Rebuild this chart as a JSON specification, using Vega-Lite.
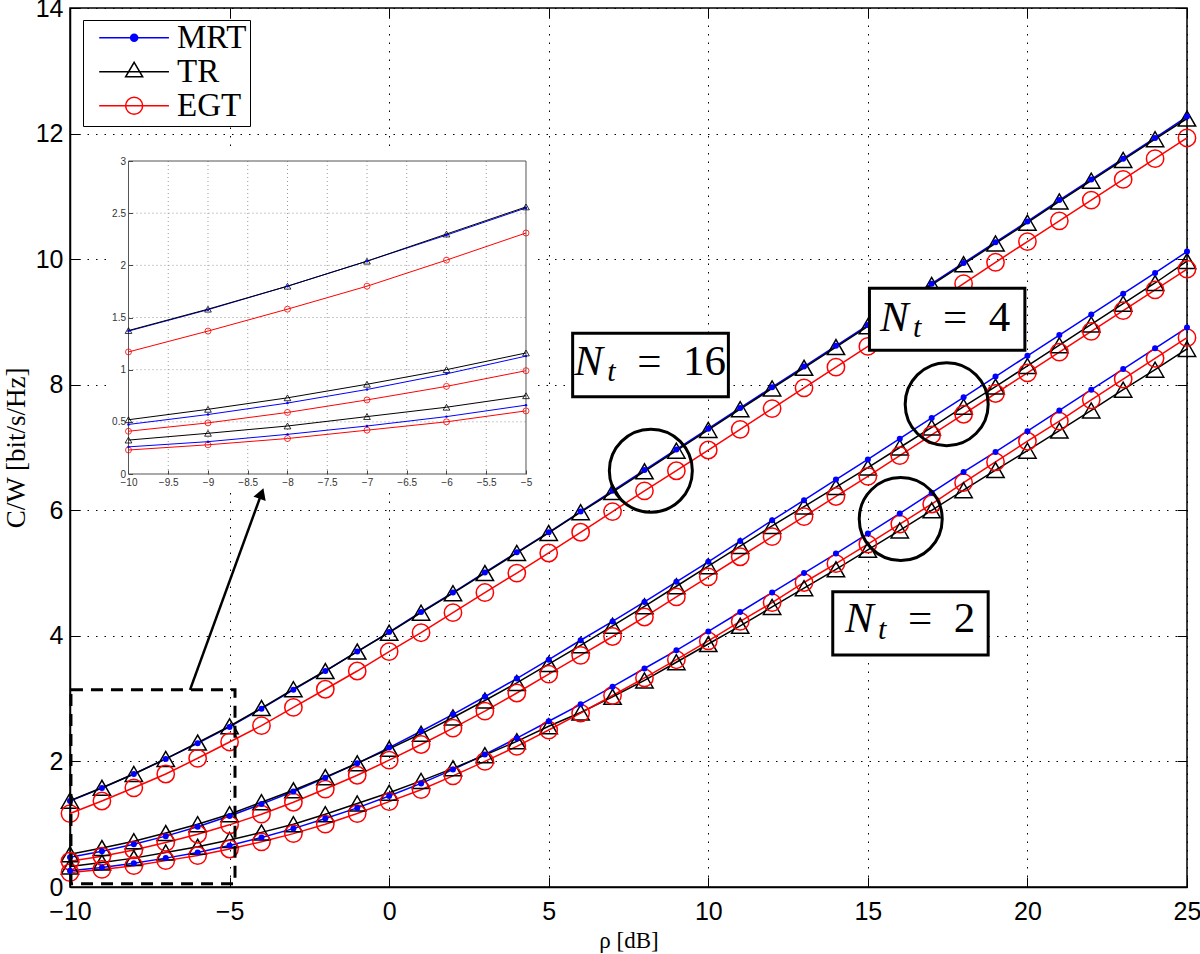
{
  "$schema": "https://vega.github.io/schema/vega-lite/v6.json",
  "width": 1117,
  "height": 879,
  "autosize": {"type": "none"},
  "padding": {"left": 70, "top": 8, "right": 13, "bottom": 67},
  "background": "white",
  "config": {
    "view": {"stroke": "black", "strokeWidth": 1.5},
    "legend": {
      "padding": 3,
      "strokeColor": "black",
      "fillColor": "white",
      "cornerRadius": 0,
      "labelFont": "Liberation Serif",
      "labelFontSize": 33,
      "labelColor": "black",
      "labelBaseline": "middle",
      "symbolSize": 900,
      "symbolStrokeWidth": 1.5,
      "symbolOpacity": 1,
      "labelOffset": 58,
      "rowPadding": 0,
      "clipHeight": 29.5,
      "labelLimit": 400
    }
  },
  "datasets": {
    "cap": [
      {"rho": -10, "Nt": 16, "MRT": 1.37, "TR": 1.375, "EGT": 1.17},
      {"rho": -9, "Nt": 16, "MRT": 1.575, "TR": 1.58, "EGT": 1.37},
      {"rho": -8, "Nt": 16, "MRT": 1.8, "TR": 1.8, "EGT": 1.58},
      {"rho": -7, "Nt": 16, "MRT": 2.04, "TR": 2.04, "EGT": 1.8},
      {"rho": -6, "Nt": 16, "MRT": 2.29, "TR": 2.3, "EGT": 2.05},
      {"rho": -5, "Nt": 16, "MRT": 2.55, "TR": 2.56, "EGT": 2.31},
      {"rho": -4, "Nt": 16, "MRT": 2.84, "TR": 2.85, "EGT": 2.57},
      {"rho": -3, "Nt": 16, "MRT": 3.14, "TR": 3.15, "EGT": 2.86},
      {"rho": -2, "Nt": 16, "MRT": 3.44, "TR": 3.44, "EGT": 3.15},
      {"rho": -1, "Nt": 16, "MRT": 3.75, "TR": 3.75, "EGT": 3.44},
      {"rho": 0, "Nt": 16, "MRT": 4.06, "TR": 4.05, "EGT": 3.75},
      {"rho": 1, "Nt": 16, "MRT": 4.38, "TR": 4.37, "EGT": 4.05},
      {"rho": 2, "Nt": 16, "MRT": 4.69, "TR": 4.68, "EGT": 4.37},
      {"rho": 3, "Nt": 16, "MRT": 5.01, "TR": 5.0, "EGT": 4.69},
      {"rho": 4, "Nt": 16, "MRT": 5.33, "TR": 5.32, "EGT": 5.0},
      {"rho": 5, "Nt": 16, "MRT": 5.65, "TR": 5.64, "EGT": 5.32},
      {"rho": 6, "Nt": 16, "MRT": 5.98, "TR": 5.97, "EGT": 5.65},
      {"rho": 7, "Nt": 16, "MRT": 6.31, "TR": 6.29, "EGT": 5.98},
      {"rho": 8, "Nt": 16, "MRT": 6.64, "TR": 6.62, "EGT": 6.31},
      {"rho": 9, "Nt": 16, "MRT": 6.97, "TR": 6.95, "EGT": 6.63},
      {"rho": 10, "Nt": 16, "MRT": 7.3, "TR": 7.28, "EGT": 6.96},
      {"rho": 11, "Nt": 16, "MRT": 7.63, "TR": 7.61, "EGT": 7.29},
      {"rho": 12, "Nt": 16, "MRT": 7.96, "TR": 7.94, "EGT": 7.62},
      {"rho": 13, "Nt": 16, "MRT": 8.29, "TR": 8.27, "EGT": 7.95},
      {"rho": 14, "Nt": 16, "MRT": 8.62, "TR": 8.6, "EGT": 8.28},
      {"rho": 15, "Nt": 16, "MRT": 8.95, "TR": 8.93, "EGT": 8.61},
      {"rho": 16, "Nt": 16, "MRT": 9.28, "TR": 9.26, "EGT": 8.94},
      {"rho": 17, "Nt": 16, "MRT": 9.61, "TR": 9.59, "EGT": 9.27},
      {"rho": 18, "Nt": 16, "MRT": 9.94, "TR": 9.92, "EGT": 9.61},
      {"rho": 19, "Nt": 16, "MRT": 10.27, "TR": 10.25, "EGT": 9.95},
      {"rho": 20, "Nt": 16, "MRT": 10.6, "TR": 10.58, "EGT": 10.28},
      {"rho": 21, "Nt": 16, "MRT": 10.94, "TR": 10.92, "EGT": 10.61},
      {"rho": 22, "Nt": 16, "MRT": 11.27, "TR": 11.25, "EGT": 10.94},
      {"rho": 23, "Nt": 16, "MRT": 11.6, "TR": 11.58, "EGT": 11.27},
      {"rho": 24, "Nt": 16, "MRT": 11.93, "TR": 11.91, "EGT": 11.6},
      {"rho": 25, "Nt": 16, "MRT": 12.27, "TR": 12.24, "EGT": 11.93},
      {"rho": -10, "Nt": 4, "MRT": 0.475, "TR": 0.52, "EGT": 0.41},
      {"rho": -9, "Nt": 4, "MRT": 0.57, "TR": 0.62, "EGT": 0.49},
      {"rho": -8, "Nt": 4, "MRT": 0.68, "TR": 0.73, "EGT": 0.59},
      {"rho": -7, "Nt": 4, "MRT": 0.81, "TR": 0.86, "EGT": 0.71},
      {"rho": -6, "Nt": 4, "MRT": 0.96, "TR": 1.0, "EGT": 0.84},
      {"rho": -5, "Nt": 4, "MRT": 1.13, "TR": 1.16, "EGT": 0.99},
      {"rho": -4, "Nt": 4, "MRT": 1.32, "TR": 1.35, "EGT": 1.16},
      {"rho": -3, "Nt": 4, "MRT": 1.52, "TR": 1.54, "EGT": 1.35},
      {"rho": -2, "Nt": 4, "MRT": 1.74, "TR": 1.75, "EGT": 1.56},
      {"rho": -1, "Nt": 4, "MRT": 1.97, "TR": 1.97, "EGT": 1.78},
      {"rho": 0, "Nt": 4, "MRT": 2.22, "TR": 2.2, "EGT": 2.02},
      {"rho": 1, "Nt": 4, "MRT": 2.48, "TR": 2.44, "EGT": 2.27},
      {"rho": 2, "Nt": 4, "MRT": 2.75, "TR": 2.7, "EGT": 2.53},
      {"rho": 3, "Nt": 4, "MRT": 3.03, "TR": 2.97, "EGT": 2.8},
      {"rho": 4, "Nt": 4, "MRT": 3.32, "TR": 3.25, "EGT": 3.09},
      {"rho": 5, "Nt": 4, "MRT": 3.62, "TR": 3.55, "EGT": 3.39},
      {"rho": 6, "Nt": 4, "MRT": 3.93, "TR": 3.85, "EGT": 3.69},
      {"rho": 7, "Nt": 4, "MRT": 4.23, "TR": 4.16, "EGT": 3.99},
      {"rho": 8, "Nt": 4, "MRT": 4.54, "TR": 4.47, "EGT": 4.3},
      {"rho": 9, "Nt": 4, "MRT": 4.86, "TR": 4.79, "EGT": 4.62},
      {"rho": 10, "Nt": 4, "MRT": 5.18, "TR": 5.11, "EGT": 4.94},
      {"rho": 11, "Nt": 4, "MRT": 5.51, "TR": 5.43, "EGT": 5.26},
      {"rho": 12, "Nt": 4, "MRT": 5.84, "TR": 5.75, "EGT": 5.58},
      {"rho": 13, "Nt": 4, "MRT": 6.16, "TR": 6.06, "EGT": 5.9},
      {"rho": 14, "Nt": 4, "MRT": 6.49, "TR": 6.37, "EGT": 6.22},
      {"rho": 15, "Nt": 4, "MRT": 6.81, "TR": 6.68, "EGT": 6.54},
      {"rho": 16, "Nt": 4, "MRT": 7.14, "TR": 7.0, "EGT": 6.87},
      {"rho": 17, "Nt": 4, "MRT": 7.47, "TR": 7.32, "EGT": 7.2},
      {"rho": 18, "Nt": 4, "MRT": 7.8, "TR": 7.65, "EGT": 7.53},
      {"rho": 19, "Nt": 4, "MRT": 8.13, "TR": 7.97, "EGT": 7.86},
      {"rho": 20, "Nt": 4, "MRT": 8.46, "TR": 8.3, "EGT": 8.19},
      {"rho": 21, "Nt": 4, "MRT": 8.79, "TR": 8.63, "EGT": 8.52},
      {"rho": 22, "Nt": 4, "MRT": 9.12, "TR": 8.96, "EGT": 8.85},
      {"rho": 23, "Nt": 4, "MRT": 9.45, "TR": 9.29, "EGT": 9.18},
      {"rho": 24, "Nt": 4, "MRT": 9.78, "TR": 9.62, "EGT": 9.51},
      {"rho": 25, "Nt": 4, "MRT": 10.12, "TR": 9.97, "EGT": 9.84},
      {"rho": -10, "Nt": 2, "MRT": 0.26, "TR": 0.325, "EGT": 0.23},
      {"rho": -9, "Nt": 2, "MRT": 0.31, "TR": 0.39, "EGT": 0.28},
      {"rho": -8, "Nt": 2, "MRT": 0.38, "TR": 0.46, "EGT": 0.34},
      {"rho": -7, "Nt": 2, "MRT": 0.46, "TR": 0.55, "EGT": 0.42},
      {"rho": -6, "Nt": 2, "MRT": 0.55, "TR": 0.64, "EGT": 0.5},
      {"rho": -5, "Nt": 2, "MRT": 0.66, "TR": 0.75, "EGT": 0.605},
      {"rho": -4, "Nt": 2, "MRT": 0.79, "TR": 0.87, "EGT": 0.72},
      {"rho": -3, "Nt": 2, "MRT": 0.93, "TR": 1.0, "EGT": 0.85},
      {"rho": -2, "Nt": 2, "MRT": 1.09, "TR": 1.16, "EGT": 1.0},
      {"rho": -1, "Nt": 2, "MRT": 1.26, "TR": 1.33, "EGT": 1.17},
      {"rho": 0, "Nt": 2, "MRT": 1.45, "TR": 1.5, "EGT": 1.36},
      {"rho": 1, "Nt": 2, "MRT": 1.65, "TR": 1.69, "EGT": 1.55},
      {"rho": 2, "Nt": 2, "MRT": 1.87, "TR": 1.89, "EGT": 1.77},
      {"rho": 3, "Nt": 2, "MRT": 2.11, "TR": 2.1, "EGT": 2.0},
      {"rho": 4, "Nt": 2, "MRT": 2.37, "TR": 2.32, "EGT": 2.24},
      {"rho": 5, "Nt": 2, "MRT": 2.64, "TR": 2.56, "EGT": 2.5},
      {"rho": 6, "Nt": 2, "MRT": 2.91, "TR": 2.78, "EGT": 2.77},
      {"rho": 7, "Nt": 2, "MRT": 3.19, "TR": 3.03, "EGT": 3.05},
      {"rho": 8, "Nt": 2, "MRT": 3.48, "TR": 3.29, "EGT": 3.33},
      {"rho": 9, "Nt": 2, "MRT": 3.77, "TR": 3.58, "EGT": 3.62},
      {"rho": 10, "Nt": 2, "MRT": 4.07, "TR": 3.87, "EGT": 3.92},
      {"rho": 11, "Nt": 2, "MRT": 4.38, "TR": 4.16, "EGT": 4.23},
      {"rho": 12, "Nt": 2, "MRT": 4.69, "TR": 4.46, "EGT": 4.53},
      {"rho": 13, "Nt": 2, "MRT": 5.0, "TR": 4.76, "EGT": 4.85},
      {"rho": 14, "Nt": 2, "MRT": 5.31, "TR": 5.06, "EGT": 5.15},
      {"rho": 15, "Nt": 2, "MRT": 5.63, "TR": 5.37, "EGT": 5.46},
      {"rho": 16, "Nt": 2, "MRT": 5.95, "TR": 5.68, "EGT": 5.78},
      {"rho": 17, "Nt": 2, "MRT": 6.28, "TR": 6.0, "EGT": 6.1},
      {"rho": 18, "Nt": 2, "MRT": 6.61, "TR": 6.32, "EGT": 6.44},
      {"rho": 19, "Nt": 2, "MRT": 6.93, "TR": 6.64, "EGT": 6.77},
      {"rho": 20, "Nt": 2, "MRT": 7.26, "TR": 6.95, "EGT": 7.1},
      {"rho": 21, "Nt": 2, "MRT": 7.59, "TR": 7.27, "EGT": 7.42},
      {"rho": 22, "Nt": 2, "MRT": 7.92, "TR": 7.59, "EGT": 7.76},
      {"rho": 23, "Nt": 2, "MRT": 8.25, "TR": 7.92, "EGT": 8.09},
      {"rho": 24, "Nt": 2, "MRT": 8.58, "TR": 8.24, "EGT": 8.42},
      {"rho": 25, "Nt": 2, "MRT": 8.91, "TR": 8.57, "EGT": 8.75}
    ],
    "boxes": [
      {"bx1": 5.75, "bx2": 10.63, "by1": 7.81, "by2": 8.82},
      {"bx1": 15.05, "bx2": 19.92, "by1": 8.55, "by2": 9.535},
      {"bx1": 13.9, "bx2": 18.77, "by1": 3.695, "by2": 4.703}
    ],
    "labels": [
      {"lx": 5.8, "ly": 8.155, "eq": "=\u00a0\u00a016"},
      {"lx": 15.38, "ly": 8.86, "eq": "=\u00a0\u00a04"},
      {"lx": 14.28, "ly": 4.057, "eq": "=\u00a0\u00a02"}
    ],
    "circles": [
      {"cx": 8.2, "cy": 6.63},
      {"cx": 17.47, "cy": 7.69},
      {"cx": 16.03, "cy": 5.86}
    ],
    "dash": [{"dx1": -9.97, "dx2": -4.83, "dy1": 0.05, "dy2": 3.14}],
    "arrow": [{"ax1": -6.24, "ay1": 3.14, "ax2": -4.0, "ay2": 6.266}],
    "ibg": [{"x1": -10.233, "x2": -4.887, "y1": -0.163, "y2": 3.105}],
    "ifr": [{"x1": -10, "x2": -5, "y1": 0, "y2": 3}],
    "ixg": [
      {"v": -9.5, "lo": 0, "hi": 3}, {"v": -9, "lo": 0, "hi": 3}, {"v": -8.5, "lo": 0, "hi": 3},
      {"v": -8, "lo": 0, "hi": 3}, {"v": -7.5, "lo": 0, "hi": 3}, {"v": -7, "lo": 0, "hi": 3},
      {"v": -6.5, "lo": 0, "hi": 3}, {"v": -6, "lo": 0, "hi": 3}, {"v": -5.5, "lo": 0, "hi": 3}
    ],
    "iyg": [
      {"v": 0.5, "lo": -10, "hi": -5}, {"v": 1, "lo": -10, "hi": -5}, {"v": 1.5, "lo": -10, "hi": -5},
      {"v": 2, "lo": -10, "hi": -5}, {"v": 2.5, "lo": -10, "hi": -5}
    ]
  },
  "resolve": {"scale": {"x": "independent", "y": "independent"}},
  "layer": [
    {
      "encoding": {
        "x": {
          "field": "rho", "type": "quantitative",
          "scale": {"domain": [-10, 25], "nice": false, "zero": false},
          "axis": {
            "orient": "bottom",
            "title": "ρ [dB]",
            "values": [-10, -5, 0, 5, 10, 15, 20, 25],
            "format": "~g",
            "grid": true, "gridColor": "black", "gridDash": [1.5, 7], "gridWidth": 1,
            "tickSize": -10, "tickColor": "black", "tickWidth": 1,
            "domainColor": "black", "domainWidth": 1.5,
            "labelFont": "Liberation Sans", "labelFontSize": 25, "labelColor": "black",
            "labelPadding": 22, "labelFlush": false,
            "titleFont": "Liberation Serif", "titleFontSize": 23, "titleFontWeight": "normal",
            "titleColor": "black", "titlePadding": 5
          }
        },
        "y": {
          "field": "C", "type": "quantitative",
          "scale": {"domain": [0, 14], "nice": false, "zero": false},
          "axis": {
            "orient": "left",
            "title": "C/W [bit/s/Hz]",
            "values": [0, 2, 4, 6, 8, 10, 12, 14],
            "format": "~g",
            "grid": true, "gridColor": "black", "gridDash": [1.5, 7], "gridWidth": 1,
            "tickSize": -10, "tickColor": "black", "tickWidth": 1,
            "domainColor": "black", "domainWidth": 1.5,
            "labelFont": "Liberation Sans", "labelFontSize": 25, "labelColor": "black",
            "labelPadding": 17, "labelFlush": false,
            "titleFont": "Liberation Serif", "titleFontSize": 27, "titleFontWeight": "normal",
            "titleColor": "black", "titlePadding": 5
          }
        }
      },
      "layer": [
        {
          "data": {"name": "cap"},
          "transform": [{"fold": ["MRT", "TR", "EGT"], "as": ["scheme", "C"]}, {"filter": {"field": "scheme", "equal": "MRT"}}],
          "mark": {"type": "line", "strokeWidth": 1.5, "color": "#0000ff"},
          "encoding": {"detail": {"field": "Nt", "type": "nominal"}}
        },
        {
          "data": {"name": "cap"},
          "transform": [{"fold": ["MRT", "TR", "EGT"], "as": ["scheme", "C"]}, {"filter": {"field": "scheme", "equal": "TR"}}],
          "mark": {"type": "line", "strokeWidth": 1.5, "color": "#000000"},
          "encoding": {"detail": {"field": "Nt", "type": "nominal"}}
        },
        {
          "data": {"name": "cap"},
          "transform": [{"fold": ["MRT", "TR", "EGT"], "as": ["scheme", "C"]}, {"filter": {"field": "scheme", "equal": "EGT"}}],
          "mark": {"type": "line", "strokeWidth": 1.5, "color": "#ff0000"},
          "encoding": {"detail": {"field": "Nt", "type": "nominal"}}
        },
        {
          "data": {"name": "cap"},
          "transform": [{"fold": ["MRT", "TR", "EGT"], "as": ["scheme", "C"]}, {"filter": {"field": "scheme", "equal": "TR"}}],
          "mark": {"type": "point", "shape": "triangle-up", "size": 300, "filled": false, "stroke": "black", "strokeWidth": 1.5, "opacity": 1}
        },
        {
          "data": {"name": "cap"},
          "transform": [{"fold": ["MRT", "TR", "EGT"], "as": ["scheme", "C"]}, {"filter": {"field": "scheme", "equal": "EGT"}}],
          "mark": {"type": "point", "shape": "circle", "size": 300, "filled": false, "stroke": "#ff0000", "strokeWidth": 1.5, "opacity": 1}
        },
        {
          "data": {"name": "cap"},
          "transform": [{"fold": ["MRT", "TR", "EGT"], "as": ["scheme", "C"]}, {"filter": {"field": "scheme", "equal": "MRT"}}],
          "mark": {"type": "point", "shape": "circle", "size": 36, "filled": true, "fill": "#0000ff", "opacity": 1}
        },
        {
          "data": {"name": "dash"},
          "mark": {"type": "rect", "fillOpacity": 0, "stroke": "black", "strokeWidth": 3, "strokeDash": [12, 8]},
          "encoding": {
            "x": {"field": "dx1", "type": "quantitative"}, "x2": {"field": "dx2"},
            "y": {"field": "dy1", "type": "quantitative"}, "y2": {"field": "dy2"}
          }
        },
        {
          "data": {"name": "boxes"},
          "mark": {"type": "rect", "fill": "white", "stroke": "black", "strokeWidth": 3},
          "encoding": {
            "x": {"field": "bx1", "type": "quantitative"}, "x2": {"field": "bx2"},
            "y": {"field": "by1", "type": "quantitative"}, "y2": {"field": "by2"}
          }
        },
        {
          "data": {"name": "labels"},
          "mark": {"type": "text", "text": "N", "font": "Liberation Serif", "fontStyle": "italic", "fontSize": 43, "align": "left", "baseline": "alphabetic", "color": "black"},
          "encoding": {"x": {"field": "lx", "type": "quantitative"}, "y": {"field": "ly", "type": "quantitative"}}
        },
        {
          "data": {"name": "labels"},
          "mark": {"type": "text", "text": "t", "font": "Liberation Serif", "fontStyle": "italic", "fontSize": 30, "align": "left", "baseline": "alphabetic", "dx": 33, "dy": 6.5, "color": "black"},
          "encoding": {"x": {"field": "lx", "type": "quantitative"}, "y": {"field": "ly", "type": "quantitative"}}
        },
        {
          "data": {"name": "labels"},
          "mark": {"type": "text", "font": "Liberation Serif", "fontSize": 43, "align": "left", "baseline": "alphabetic", "dx": 63, "color": "black"},
          "encoding": {"x": {"field": "lx", "type": "quantitative"}, "y": {"field": "ly", "type": "quantitative"}, "text": {"field": "eq"}}
        },
        {
          "data": {"name": "circles"},
          "mark": {"type": "point", "shape": "circle", "size": 6889, "filled": false, "stroke": "black", "strokeWidth": 3, "opacity": 1},
          "encoding": {"x": {"field": "cx", "type": "quantitative"}, "y": {"field": "cy", "type": "quantitative"}}
        }
      ]
    },
    {
      "encoding": {
        "x": {
          "field": "rho", "type": "quantitative",
          "scale": {"domain": [-10.7358, 3.3145], "nice": false, "zero": false},
          "axis": {
            "orient": "bottom", "offset": -413, "title": null,
            "values": [-10, -9.5, -9, -8.5, -8, -7.5, -7, -6.5, -6, -5.5, -5],
            "labelExpr": "format(datum.value, '~g')",
            "domain": false, "grid": false,
            "tickSize": -4, "tickColor": "#444", "tickWidth": 1,
            "labelFont": "Liberation Sans", "labelFontSize": 10, "labelColor": "#333",
            "labelPadding": 7, "labelFlush": false, "zindex": 1
          }
        },
        "y": {
          "field": "C", "type": "quantitative",
          "scale": {"domain": [-3.9585, 4.4665], "nice": false, "zero": false},
          "axis": {
            "orient": "left", "offset": -58.5, "title": null,
            "values": [0, 0.5, 1, 1.5, 2, 2.5, 3],
            "labelExpr": "format(datum.value, '~g')",
            "domain": false, "grid": false,
            "tickSize": -4, "tickColor": "#444", "tickWidth": 1,
            "labelFont": "Liberation Sans", "labelFontSize": 10, "labelColor": "#333",
            "labelPadding": 7, "labelFlush": false, "zindex": 1
          }
        }
      },
      "layer": [
        {
          "data": {"name": "ibg"},
          "mark": {"type": "rect", "fill": "white", "strokeOpacity": 0},
          "encoding": {
            "x": {"field": "x1", "type": "quantitative"}, "x2": {"field": "x2"},
            "y": {"field": "y1", "type": "quantitative"}, "y2": {"field": "y2"}
          }
        },
        {
          "data": {"name": "ixg"},
          "mark": {"type": "rule", "stroke": "#999999", "strokeWidth": 1, "strokeDash": [1, 3]},
          "encoding": {"x": {"field": "v", "type": "quantitative"}, "y": {"field": "lo", "type": "quantitative"}, "y2": {"field": "hi"}}
        },
        {
          "data": {"name": "iyg"},
          "mark": {"type": "rule", "stroke": "#999999", "strokeWidth": 1, "strokeDash": [1, 3]},
          "encoding": {"y": {"field": "v", "type": "quantitative"}, "x": {"field": "lo", "type": "quantitative"}, "x2": {"field": "hi"}}
        },
        {
          "data": {"name": "ifr"},
          "mark": {"type": "rect", "fillOpacity": 0, "stroke": "#555555", "strokeWidth": 1},
          "encoding": {
            "x": {"field": "x1", "type": "quantitative"}, "x2": {"field": "x2"},
            "y": {"field": "y1", "type": "quantitative"}, "y2": {"field": "y2"}
          }
        },
        {
          "data": {"name": "cap"},
          "transform": [{"filter": "datum.rho <= -5"}, {"fold": ["MRT", "TR", "EGT"], "as": ["scheme", "C"]}, {"filter": {"field": "scheme", "equal": "MRT"}}],
          "mark": {"type": "line", "strokeWidth": 1, "color": "#0000ff"},
          "encoding": {"detail": {"field": "Nt", "type": "nominal"}}
        },
        {
          "data": {"name": "cap"},
          "transform": [{"filter": "datum.rho <= -5"}, {"fold": ["MRT", "TR", "EGT"], "as": ["scheme", "C"]}, {"filter": {"field": "scheme", "equal": "TR"}}],
          "mark": {"type": "line", "strokeWidth": 1, "color": "#000000"},
          "encoding": {"detail": {"field": "Nt", "type": "nominal"}}
        },
        {
          "data": {"name": "cap"},
          "transform": [{"filter": "datum.rho <= -5"}, {"fold": ["MRT", "TR", "EGT"], "as": ["scheme", "C"]}, {"filter": {"field": "scheme", "equal": "EGT"}}],
          "mark": {"type": "line", "strokeWidth": 1, "color": "#ff0000"},
          "encoding": {"detail": {"field": "Nt", "type": "nominal"}}
        },
        {
          "data": {"name": "cap"},
          "transform": [{"filter": "datum.rho <= -5"}, {"fold": ["MRT", "TR", "EGT"], "as": ["scheme", "C"]}, {"filter": {"field": "scheme", "equal": "TR"}}],
          "mark": {"type": "point", "shape": "triangle-up", "size": 45, "filled": false, "stroke": "black", "strokeWidth": 0.8, "opacity": 1}
        },
        {
          "data": {"name": "cap"},
          "transform": [{"filter": "datum.rho <= -5"}, {"fold": ["MRT", "TR", "EGT"], "as": ["scheme", "C"]}, {"filter": {"field": "scheme", "equal": "EGT"}}],
          "mark": {"type": "point", "shape": "circle", "size": 36, "filled": false, "stroke": "#ff0000", "strokeWidth": 0.8, "opacity": 1}
        },
        {
          "data": {"name": "cap"},
          "transform": [{"filter": "datum.rho <= -5"}, {"fold": ["MRT", "TR", "EGT"], "as": ["scheme", "C"]}, {"filter": {"field": "scheme", "equal": "MRT"}}],
          "mark": {"type": "point", "shape": "circle", "size": 6, "filled": true, "fill": "#0000ff", "opacity": 1}
        }
      ]
    },
    {
      "encoding": {
        "x": {
          "field": "rho", "type": "quantitative",
          "scale": {"domain": [-10, 25], "nice": false, "zero": false},
          "axis": {"orient": "top", "title": null, "values": [-10, -5, 0, 5, 10, 15, 20, 25], "labels": false, "domain": false, "grid": false, "tickSize": -10, "tickColor": "black", "tickWidth": 1}
        },
        "y": {
          "field": "C", "type": "quantitative",
          "scale": {"domain": [0, 14], "nice": false, "zero": false},
          "axis": {"orient": "right", "title": null, "values": [0, 2, 4, 6, 8, 10, 12, 14], "labels": false, "domain": false, "grid": false, "tickSize": -10, "tickColor": "black", "tickWidth": 1}
        }
      },
      "layer": [
        {
          "data": {"name": "cap"},
          "transform": [{"fold": ["MRT", "TR", "EGT"], "as": ["scheme", "C"]}],
          "mark": {"type": "point", "filled": true, "opacity": 0},
          "encoding": {
            "shape": {"field": "scheme", "type": "nominal",
              "scale": {"domain": ["MRT", "TR", "EGT"], "range": [
                "M-0.22,0H4.43M2.343,0A0.233,0.233,0,1,1,1.877,0A0.233,0.233,0,1,1,2.343,0Z",
                "M-0.22,0H4.43M2.11,-0.627L2.677,0.333L1.543,0.333Z",
                "M-0.22,0H4.43M2.677,0A0.567,0.567,0,1,1,1.543,0A0.567,0.567,0,1,1,2.677,0Z"
              ]},
              "legend": {"orient": "none", "legendX": 13, "legendY": 12, "title": null, "labelExpr": "datum.label + '\u00a0\u00a0'"}
            },
            "stroke": {"field": "scheme", "type": "nominal",
              "scale": {"domain": ["MRT", "TR", "EGT"], "range": ["#0000ff", "#000000", "#ff0000"]}},
            "fill": {"field": "scheme", "type": "nominal",
              "scale": {"domain": ["MRT", "TR", "EGT"], "range": ["#0000ff", "transparent", "transparent"]}}
          }
        },
        {
          "data": {"name": "arrow"},
          "mark": {"type": "rule", "strokeWidth": 2.5, "color": "black"},
          "encoding": {
            "x": {"field": "ax1", "type": "quantitative"}, "y": {"field": "ay1", "type": "quantitative"},
            "x2": {"field": "ax2"}, "y2": {"field": "ay2"}
          }
        },
        {
          "data": {"name": "arrow"},
          "mark": {"type": "point", "shape": "triangle-up", "size": 170, "filled": true, "color": "black", "angle": 20, "opacity": 1},
          "encoding": {"x": {"field": "ax2", "type": "quantitative"}, "y": {"field": "ay2", "type": "quantitative"}}
        }
      ]
    }
  ]
}
